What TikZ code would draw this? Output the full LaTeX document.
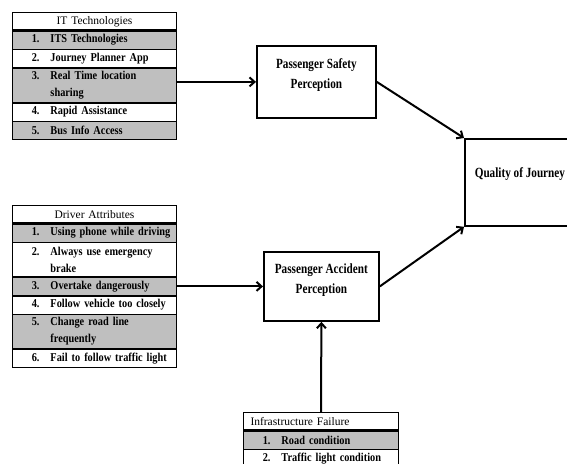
\documentclass[tikz,border=0pt]{standalone}
\usepackage{fontspec}
\usepackage{tikz}
\usetikzlibrary{matrix,arrows.meta}
\newfontfamily\tabfont[FakeStretch=0.86]{Liberation Serif}
\newfontfamily\hdrfont{Liberation Serif}
\newfontfamily\boxfont[FakeStretch=0.8]{Liberation Serif}
\newcommand\itm[2]{\makebox[25pt][r]{#1}\hspace{11pt}\parbox[t]{\dimexpr\hsize-36pt\relax}{\raggedright #2}}

\begin{document}
\begin{tikzpicture}[x=1pt,y=-1pt,
            tbl/.style={matrix of nodes, anchor=north west, inner sep=0pt,
                row sep=0pt,
                nodes={draw, line width=.6pt, outer sep=0pt, inner xsep=2pt,
                    inner ysep=1pt, text width=#1, align=left,
                    minimum height=18pt,
                    font=\tabfont\bfseries\fontsize{12pt}{17pt}\selectfont}},
            hdr/.style={nodes={align=center, font=\hdrfont\fontsize{11.5pt}{17pt}\selectfont}},
            shade/.style={nodes={fill=black!25}},
            dbl/.style={nodes={minimum height=34pt}},
            percbox/.style={draw, line width=1.8pt, anchor=north west, align=center,
                text depth=16pt,
                font=\boxfont\bfseries\fontsize{14pt}{20pt}\selectfont},
            arr/.style={-{Straight Barb[length=5pt,width=9pt]}, line width=2pt},
            hline/.style={line width=2.4pt}]
            \path[use as bounding box, clip] (0,0) rectangle (567,463);

            \matrix (it) [tbl=160pt,
                row 1/.style={hdr}, row 2/.style={shade}, row 4/.style={shade,dbl},
                row 6/.style={shade}
            ] at (12,12)
            {
                IT Technologies \\
                \itm{1.}{ITS Technologies} \\
                \itm{2.}{Journey Planner App} \\
                \itm{3.}{Real Time location\newline sharing} \\
                \itm{4.}{Rapid Assistance} \\
                \itm{5.}{Bus Info Access} \\
            };

            \matrix (drv) [tbl=160pt,
                row 1/.style={hdr}, row 2/.style={shade}, row 3/.style={dbl},
                row 4/.style={shade}, row 6/.style={shade,dbl}
            ] at (12,205)
            {
                Driver Attributes \\
                \itm{1.}{Using phone while driving} \\
                \itm{2.}{Always use emergency\newline brake} \\
                \itm{3.}{Overtake dangerously} \\
                \itm{4.}{Follow vehicle too closely} \\
                \itm{5.}{Change road line\newline frequently} \\
                \itm{6.}{Fail to follow traffic light} \\
            };

            \matrix (inf) [tbl=151pt,
                row 1/.style={nodes={font=\hdrfont\fontsize{11.5pt}{17pt}\selectfont}},
                row 2/.style={shade}
            ] at (243,412)
            {
                \hspace*{5pt}Infrastructure Failure \\
                \itm{1.}{Road condition} \\
                \itm{2.}{Traffic light condition} \\
            };

            \draw[hline] (it-1-1.south west) -- (it-1-1.south east);
            \draw[hline] (drv-1-1.south west) -- (drv-1-1.south east);
            \draw[hline] (inf-1-1.south west) -- (inf-1-1.south east);

            \node[percbox, minimum width=119pt, minimum height=72pt] (psp) at (256,45)
                {Passenger Safety\\Perception};
            \node[percbox, minimum width=115pt, minimum height=69pt] (pap) at (263,251)
                {Passenger Accident\\Perception};
            \node[percbox, minimum width=110pt, minimum height=87pt, text depth=19pt] (qoj) at (464,138)
                {Quality of Journey};

            \draw[arr] (psp.west -| it.east) -- (psp.west);
            \draw[arr] (pap.west -| drv.east) -- (pap.west);
            \draw[arr] (inf.north) -- (pap.south);
            \draw[arr] (psp.east) -- (qoj.north west);
            \draw[arr] (pap.east) -- (qoj.south west);

        \end{tikzpicture}
\end{document}
